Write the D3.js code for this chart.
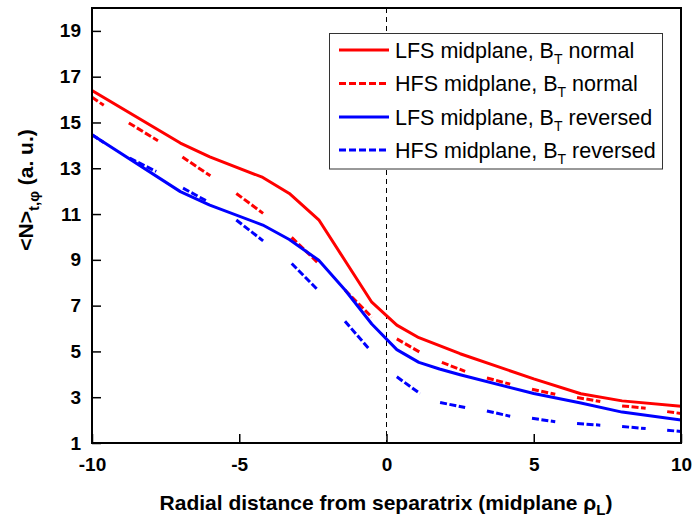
<!DOCTYPE html>
<html>
<head>
<meta charset="utf-8">
<script src="https://cdn.jsdelivr.net/npm/d3@7"></script>
<style>
  html, body { margin: 0; padding: 0; background: #fff; }
  text { font-family: "Liberation Sans", Arial, sans-serif; fill: #000; }
</style>
</head>
<body>
<svg id="chart" width="695" height="525"></svg>
<script>
// ---- data ----
const xTicks = [-10, -5, 0, 5, 10];
const yTicks = [1, 3, 5, 7, 9, 11, 13, 15, 17, 19];

// solid curves
const lfsNormalX = [-10, -7, -6, -4.2, -3.3, -2.3, -1.4, -0.5, 0.35, 1.1, 2.5, 5, 6.6, 8, 10];
const lfsNormalY = [16.4, 14.1, 13.5, 12.6, 11.9, 10.75, 8.95, 7.15, 6.15, 5.6, 4.9, 3.8, 3.15, 2.84, 2.6];

const lfsReversedX = [-10, -7, -6, -4.2, -3.3, -2.3, -1.4, -0.5, 0.35, 1.1, 1.8, 2.5, 5, 6.6, 8, 10];
const lfsReversedY = [14.46, 11.98, 11.39, 10.52, 9.89, 8.98, 7.67, 6.2, 5.08, 4.52, 4.23, 3.98, 3.16, 2.75, 2.35, 2.0];

// HFS curves: sampled points; the picture draws every other interval (point 2k to 2k+1)
const hfsNormalX = [-10, -9.6, -8.75, -7.76, -6.93, -5.98, -5.1, -4.19, -3.22, -2.32, -1.41, -0.5, 0.35, 1.14, 1.88, 2.67, 3.41, 4.2, 4.94, 5.73, 6.47, 7.26, 8.0, 8.8, 9.53, 10];
const hfsNormalY = [16.1, 15.75, 14.98, 14.2, 13.49, 12.67, 11.9, 11.03, 9.98, 8.86, 7.68, 6.5, 5.55, 4.96, 4.52, 4.13, 3.84, 3.57, 3.35, 3.13, 2.99, 2.81, 2.62, 2.52, 2.37, 2.29];

const hfsReversedX = [-10, -9.6, -8.72, -7.82, -6.91, -6.06, -5.1, -4.19, -3.22, -2.32, -1.41, -0.62, 0.35, 1.14, 1.82, 2.67, 3.41, 4.2, 4.94, 5.73, 6.47, 7.26, 8.0, 8.8, 9.53, 10];
const hfsReversedY = [14.46, 14.13, 13.44, 12.86, 12.13, 11.54, 10.74, 9.83, 8.84, 7.67, 6.32, 5.15, 3.89, 3.16, 2.77, 2.55, 2.4, 2.17, 2.08, 1.93, 1.85, 1.78, 1.72, 1.63, 1.56, 1.5];

const seriesNames = ["LFS midplane, B", "HFS midplane, B", "LFS midplane, B", "HFS midplane, B"];
const seriesTails = [" normal", " normal", " reversed", " reversed"];
const seriesColors = ["#ff0000", "#ff0000", "#0000ff", "#0000ff"];
const seriesDashed = [false, true, false, true];

// ---- layout ----
const svg = d3.select("#chart");
const mLeft = 92, mRight = 681, mTop = 8, mBottom = 443;

const x = d3.scaleLinear().domain([-10, 10]).range([mLeft, mRight]);
const y = d3.scaleLinear().domain([1, 20]).range([mBottom, mTop]);

const zip = (xs, ys) => xs.map((v, i) => [v, ys[i]]);
const series = [
  zip(lfsNormalX, lfsNormalY),
  zip(hfsNormalX, hfsNormalY),
  zip(lfsReversedX, lfsReversedY),
  zip(hfsReversedX, hfsReversedY)
];

const clipId = "plotclip";
svg.append("clipPath").attr("id", clipId)
  .append("rect").attr("x", mLeft).attr("y", mTop)
  .attr("width", mRight - mLeft).attr("height", mBottom - mTop);

const plot = svg.append("g").attr("clip-path", `url(#${clipId})`);

// separatrix dashed line
plot.append("line")
  .attr("x1", x(0)).attr("x2", x(0))
  .attr("y1", y(20)).attr("y2", y(1))
  .attr("stroke", "#000").attr("stroke-width", 1)
  .attr("stroke-dasharray", "5,4");

const line = d3.line().x(d => x(d[0])).y(d => y(d[1]));

[0, 1, 2, 3].forEach(i => {
  const color = seriesColors[i];
  if (!seriesDashed[i]) {
    plot.append("path")
      .datum(series[i])
      .attr("d", line)
      .attr("fill", "none")
      .attr("stroke", color)
      .attr("stroke-width", 3)
      .attr("stroke-linejoin", "round");
  } else {
    const pts = series[i];
    const pairs = [];
    for (let k = 0; k + 1 < pts.length; k += 2) pairs.push([pts[k], pts[k + 1]]);
    plot.selectAll(null).data(pairs).enter().append("path")
      .attr("d", line)
      .attr("fill", "none")
      .attr("stroke", color)
      .attr("stroke-width", 3)
      .attr("stroke-dasharray", "7,2.5");
  }
});

// frame
svg.append("rect")
  .attr("x", mLeft).attr("y", mTop)
  .attr("width", mRight - mLeft).attr("height", mBottom - mTop)
  .attr("fill", "none").attr("stroke", "#000").attr("stroke-width", 2);

// axes
const xAxis = d3.axisBottom(x).tickValues(xTicks).tickSizeInner(-9).tickSizeOuter(0).tickPadding(15)
  .tickFormat(d3.format("d"));
const gx = svg.append("g").attr("transform", `translate(0,${mBottom})`).call(xAxis);
gx.select(".domain").remove();
gx.selectAll(".tick line").attr("stroke", "#000").attr("stroke-width", 1.5);
gx.selectAll(".tick text")
  .attr("font-size", 19).attr("font-weight", "bold")
  .attr("font-family", "Liberation Sans, Arial, sans-serif")
  .attr("fill", "#000")
  .text(d => d < 0 ? "-" + Math.abs(d) : d);

const yAxis = d3.axisLeft(y).tickValues(yTicks).tickSizeInner(-9).tickSizeOuter(0).tickPadding(11)
  .tickFormat(d3.format("d"));
const gy = svg.append("g").attr("transform", `translate(${mLeft},0)`).call(yAxis);
gy.select(".domain").remove();
gy.selectAll(".tick line").attr("stroke", "#000").attr("stroke-width", 1.5);
gy.selectAll(".tick text")
  .attr("font-size", 19).attr("font-weight", "bold")
  .attr("font-family", "Liberation Sans, Arial, sans-serif")
  .attr("fill", "#000");

// x title
const xt = svg.append("text")
  .attr("x", 386).attr("y", 510)
  .attr("text-anchor", "middle")
  .attr("font-size", 21).attr("font-weight", "bold");
xt.append("tspan").text("Radial distance from separatrix (midplane \u03C1");
xt.append("tspan").attr("font-size", 15).attr("dy", 5).text("L");
xt.append("tspan").attr("dy", -5).text(")");

// y title
const yt = svg.append("text")
  .attr("transform", "translate(33,190) rotate(-90)")
  .attr("text-anchor", "middle")
  .attr("font-size", 21).attr("font-weight", "bold");
yt.append("tspan").text("<N>");
yt.append("tspan").attr("font-size", 15).attr("dy", 6).text("t,\u03C6");
yt.append("tspan").attr("dy", -6).text(" (a. u.)");

// legend
const lg = svg.append("g");
lg.append("rect")
  .attr("x", 329.5).attr("y", 33.5).attr("width", 333).attr("height", 135.5)
  .attr("fill", "#fff").attr("stroke", "#333").attr("stroke-width", 1);
const rowY = [50, 83.5, 117, 150];
seriesNames.forEach((name, i) => {
  const l = lg.append("line")
    .attr("x1", 339).attr("x2", 389)
    .attr("y1", rowY[i]).attr("y2", rowY[i])
    .attr("stroke", seriesColors[i]).attr("stroke-width", 3);
  if (seriesDashed[i]) l.attr("stroke-dasharray", "7,3");
  const t = lg.append("text")
    .attr("x", 395).attr("y", rowY[i] + 7.5)
    .attr("font-size", 21.5);
  t.append("tspan").text(name);
  t.append("tspan").attr("font-size", 14).attr("dy", 6).text("T");
  t.append("tspan").attr("dy", -6).text(seriesTails[i]);
});
</script>
</body>
</html>
